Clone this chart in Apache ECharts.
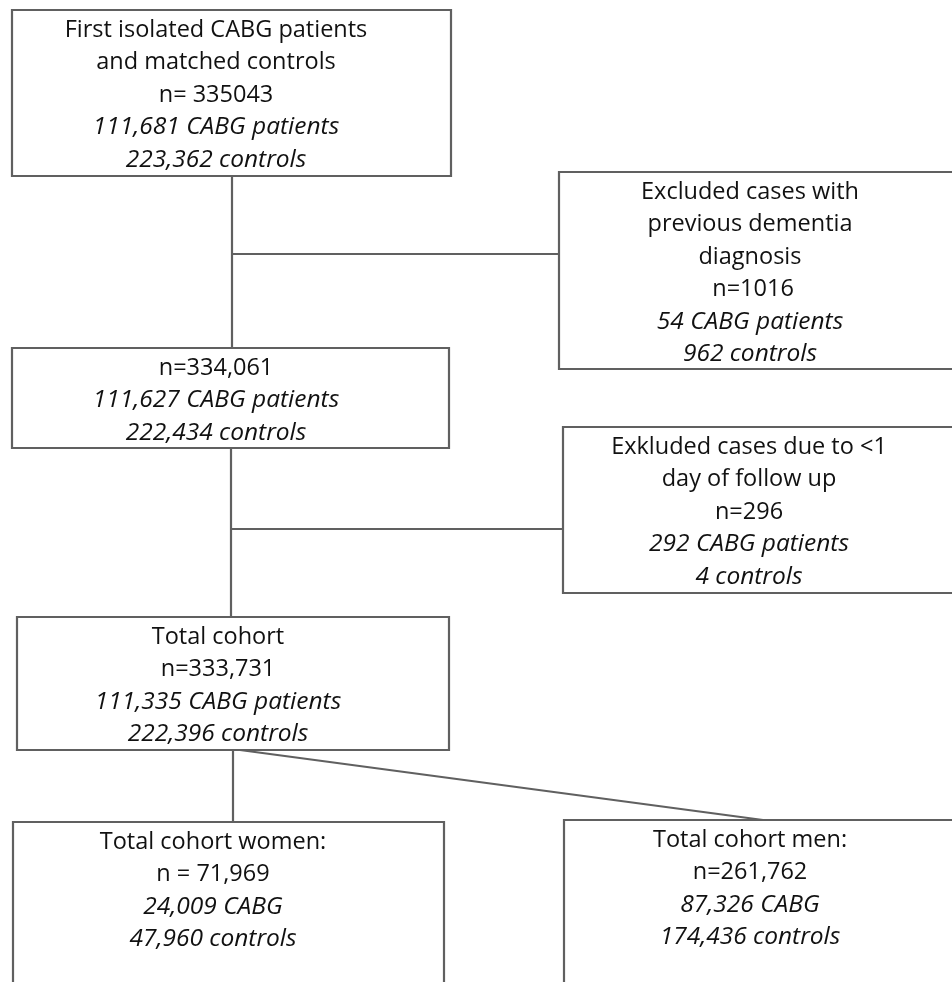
<!DOCTYPE html>
<html>
<head>
<meta charset="utf-8">
<script src="https://cdn.jsdelivr.net/npm/echarts@6/dist/echarts.min.js"></script>
<style>
  html, body { margin: 0; padding: 0; background: #fff; }
  #chart { width: 952px; height: 982px; }
</style>
</head>
<body>
<div id="chart"></div>
<script>
// box texts: plain lines first, then italic lines
var boxNames = ['start', 'afterDementia', 'exclDementia', 'exclFollowUp', 'total', 'women', 'men']
var plainLines = [
    ['First isolated CABG patients', 'and matched controls', 'n= 335043'],
    ['n=334,061'],
    ['Excluded cases with', 'previous dementia', 'diagnosis', ' n=1016'],
    ['Exkluded cases due to <1', 'day of follow up', 'n=296'],
    ['Total cohort', 'n=333,731'],
    ['Total cohort women:', 'n = 71,969'],
    ['Total cohort men:', 'n=261,762']
]
var italicLines = [
    ['111,681 CABG patients', '223,362 controls'],
    ['111,627 CABG patients', '222,434 controls'],
    ['54 CABG patients', '962 controls'],
    ['292 CABG patients', '4 controls'],
    ['111,335 CABG patients', '222,396 controls'],
    ['24,009 CABG', '47,960 controls'],
    ['87,326 CABG', '174,436 controls']
]

// layout (pixels): box corners [x0, y0, x1, y1] and text centre x
var boxRect = [
    [12, 10, 451, 176],
    [12, 348, 449, 448],
    [559, 172, 962, 369],
    [563, 427, 962, 593],
    [17, 617, 449, 750],
    [13, 822, 444, 995],
    [564, 820, 962, 995]
]
var textX = [216, 216, 750, 749, 218, 213, 750]
// connector segments
var links = [
    [[232, 176], [232, 348]],
    [[232, 254], [559, 254]],
    [[231, 448], [231, 617]],
    [[231, 529], [563, 529]],
    [[233, 750], [233, 822]],
    [[240, 750], [763, 820]]
]

var lineColor = '#606060'
var fontFam = '"Open Sans", Lato, sans-serif'

var myChart = echarts.init(document.getElementById('chart'))

function renderBox(params, api) {
    var i = api.value(0)
    var r = boxRect[i]
    var p0 = api.coord([r[0], r[1]])
    var p1 = api.coord([r[2], r[3]])
    var children = [{
        type: 'rect',
        shape: { x: p0[0], y: p0[1], width: p1[0] - p0[0], height: p1[1] - p0[1] },
        style: { fill: '#fff', stroke: lineColor, lineWidth: 2.2 }
    }]
    var all = plainLines[i].map(function (t) { return { t: t, it: false } })
        .concat(italicLines[i].map(function (t) { return { t: t, it: true } }))
    for (var k = 0; k < all.length; k++) {
        var c = api.coord([textX[i], r[1] + 20 + k * 32.5])
        children.push({
            type: 'text',
            style: {
                text: all[k].t,
                x: c[0],
                y: c[1],
                fill: '#111',
                fontSize: all[k].it ? 24.5 : 23.5,
                fontFamily: fontFam,
                fontStyle: all[k].it ? 'italic' : 'normal',
                align: 'center',
                verticalAlign: 'middle'
            }
        })
    }
    return { type: 'group', children: children }
}

var option = {
    backgroundColor: '#fff',
    animation: false,
    grid: { left: 0, right: 0, top: 0, bottom: 0 },
    xAxis: { type: 'value', min: 0, max: 952, show: false },
    yAxis: { type: 'value', min: 0, max: 982, inverse: true, show: false },
    series: [
        {
            type: 'lines',
            coordinateSystem: 'cartesian2d',
            silent: true,
            lineStyle: { color: lineColor, width: 2.2, opacity: 1 },
            data: links.map(function (l) { return { coords: l } })
        },
        {
            type: 'custom',
            silent: true,
            clip: true,
            renderItem: renderBox,
            data: boxNames.map(function (n, i) { return [i] })
        }
    ]
}

myChart.setOption(option)
window.addEventListener('resize', function () {
    myChart.resize()
})
</script>
</body>
</html>
